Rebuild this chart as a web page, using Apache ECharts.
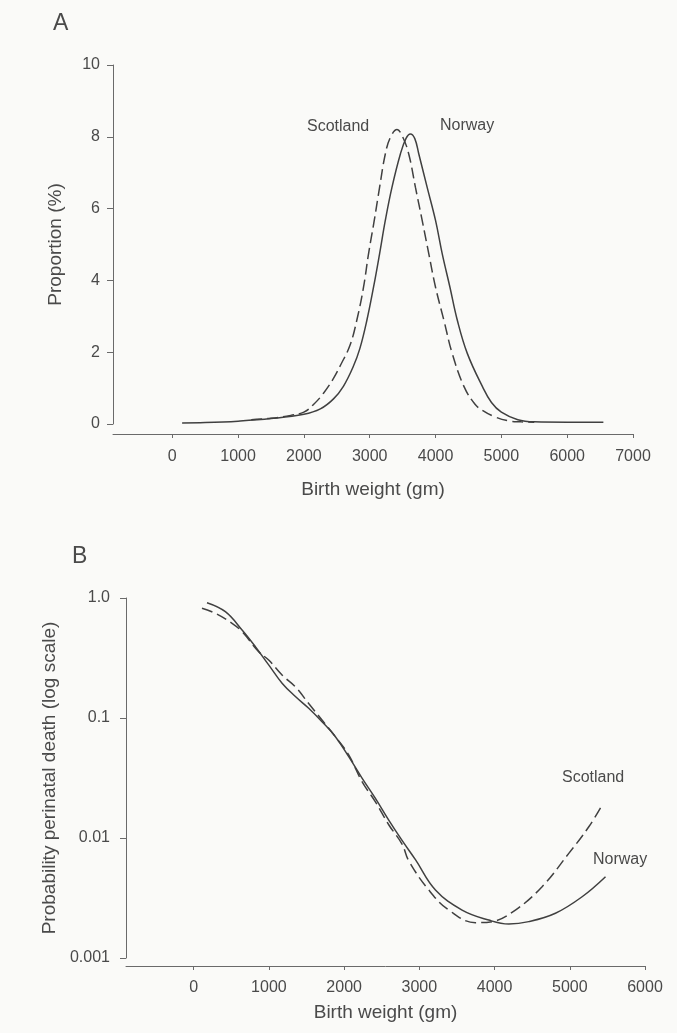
<!DOCTYPE html>
<html>
<head>
<meta charset="utf-8">
<script src="https://cdn.jsdelivr.net/npm/echarts@6/dist/echarts.min.js"></script>
<style>
  html, body { margin: 0; padding: 0; background: #fafaf8; }
  #chart { width: 677px; height: 1033px; }
</style>
</head>
<body>
<div id="chart"></div>
<script>
// panel A: birth weight distribution (gm, %)
const norwayA = [[150,0.03],[500,0.04],[1000,0.08],[1500,0.15],[2000,0.27],[2250,0.42],[2450,0.7],[2600,1.05],[2750,1.6],[2850,2.1],[2957,2.89],[3058,3.81],[3150,4.74],[3237,5.67],[3338,6.59],[3466,7.52],[3550,7.95],[3618,8.08],[3685,7.95],[3746,7.52],[3873,6.59],[4000,5.67],[4102,4.74],[4219,3.81],[4331,2.89],[4484,1.96],[4713,1.04],[4850,0.6],[5000,0.33],[5250,0.12],[5500,0.06],[6000,0.05],[6550,0.05]];
const scotlandA = [[1200,0.12],[1500,0.16],[1800,0.24],[2000,0.33],[2150,0.55],[2295,0.85],[2443,1.25],[2560,1.65],[2702,2.2],[2804,2.89],[2906,3.81],[2982,4.74],[3069,5.67],[3150,6.59],[3237,7.52],[3313,7.98],[3415,8.2],[3500,8.0],[3593,7.52],[3695,6.59],[3797,5.67],[3898,4.74],[4000,3.81],[4127,2.89],[4254,1.96],[4433,1.04],[4600,0.55],[4713,0.38],[4900,0.2],[5100,0.09],[5300,0.06],[5500,0.05]];
// panel B: probability of perinatal death (log scale)
const norwayB = [[177,0.914],[421,0.769],[643,0.541],[820,0.393],[997,0.277],[1175,0.195],[1352,0.151],[1529,0.1205],[1706,0.0931],[1884,0.0698],[2061,0.0476],[2238,0.0316],[2416,0.0214],[2593,0.0141],[2770,0.00955],[2948,0.0066],[3214,0.00369],[3568,0.00251],[3923,0.00207],[4189,0.00192],[4455,0.00201],[4809,0.00236],[5164,0.00324],[5475,0.00476]];
const scotlandB = [[110,0.82],[288,0.745],[510,0.615],[643,0.524],[864,0.357],[997,0.304],[1175,0.228],[1352,0.182],[1529,0.132],[1706,0.0962],[1884,0.0698],[2061,0.0492],[2238,0.0295],[2416,0.02],[2593,0.0129],[2770,0.0089],[2859,0.00646],[3125,0.00369],[3391,0.00251],[3746,0.00197],[3967,0.00201],[4277,0.00251],[4632,0.00393],[4987,0.00745],[5253,0.0124],[5430,0.0188]];

const xTicksA = [0,1000,2000,3000,4000,5000,6000,7000];
const xTicksB = [0,1000,2000,3000,4000,5000,6000];
const yLabelsB = ['0.001','0.01','0.1','1.0'];

const FONT = '"Liberation Sans", Arial, Helvetica, sans-serif';
const TXT = '#4a4a4a';
const AX = '#6a6a6a';
const LINE = '#404040';

const chart = echarts.init(document.getElementById('chart'));

function xAxisOf(idx, ticks, maxV, offset, margin, gap) {
  return {
    gridIndex: idx, type: 'value', min: -900, max: maxV, offset: offset,
    name: 'Birth weight (gm)', nameLocation: 'middle', nameGap: gap,
    nameTextStyle: { color: TXT, fontSize: 19, fontFamily: FONT },
    axisLine: { show: true, onZero: false, lineStyle: { color: AX, width: 1 } },
    axisTick: { show: true, length: 4, customValues: ticks, lineStyle: { color: AX } },
    axisLabel: { customValues: ticks, margin: margin, color: TXT, fontSize: 16, fontFamily: FONT,
      formatter: v => String(v) },
    splitLine: { show: false }
  };
}

function lineSeries(name, xi, data, dashed) {
  return {
    name: name, type: 'line', xAxisIndex: xi, yAxisIndex: xi, data: data,
    showSymbol: false, symbol: 'none', smooth: 0.4,
    lineStyle: { color: LINE, width: 1.5, type: dashed ? [11, 5] : 'solid' },
    silent: true, animation: false
  };
}

const label = (text, left, top, size) => ({
  type: 'text', left: left, top: top,
  style: { text: text, fill: TXT, fontSize: size, fontFamily: FONT }
});

chart.setOption({
  backgroundColor: '#fafaf8',
  animation: false,
  grid: [
    { left: 113, top: 65, width: 520, height: 359 },
    { left: 126, top: 598, width: 519, height: 360 }
  ],
  xAxis: [
    xAxisOf(0, xTicksA, 7000, 10, 15, 46),
    xAxisOf(1, xTicksB, 6000, 8, 14, 37)
  ],
  yAxis: [
    {
      gridIndex: 0, type: 'value', min: 0, max: 10, interval: 2,
      name: 'Proportion (%)', nameLocation: 'middle', nameGap: 48,
      nameTextStyle: { color: TXT, fontSize: 19, fontFamily: FONT },
      axisLine: { show: true, onZero: false, lineStyle: { color: AX, width: 1 } },
      axisTick: { show: true, length: 6, lineStyle: { color: AX } },
      axisLabel: { margin: 13, color: TXT, fontSize: 16, fontFamily: FONT },
      splitLine: { show: false }
    },
    {
      gridIndex: 1, type: 'log', logBase: 10, min: 0.001, max: 1,
      name: 'Probability perinatal death (log scale)', nameLocation: 'middle', nameGap: 64,
      nameTextStyle: { color: TXT, fontSize: 19, fontFamily: FONT },
      axisLine: { show: true, onZero: false, lineStyle: { color: AX, width: 1 } },
      axisTick: { show: true, length: 6, lineStyle: { color: AX } },
      axisLabel: {
        margin: 16, color: TXT, fontSize: 16, fontFamily: FONT,
        formatter: v => yLabelsB[Math.round(Math.log10(v)) + 3]
      },
      splitLine: { show: false }
    }
  ],
  series: [
    lineSeries('Norway', 0, norwayA, false),
    lineSeries('Scotland', 0, scotlandA, true),
    lineSeries('Norway', 1, norwayB, false),
    lineSeries('Scotland', 1, scotlandB, true)
  ],
  graphic: [
    label('A', 53, 12, 23),
    label('B', 72, 545, 23),
    label('Scotland', 307, 119, 16),
    label('Norway', 440, 118, 16),
    label('Scotland', 562, 770, 16),
    label('Norway', 593, 852, 16)
  ]
});
</script>
</body>
</html>
